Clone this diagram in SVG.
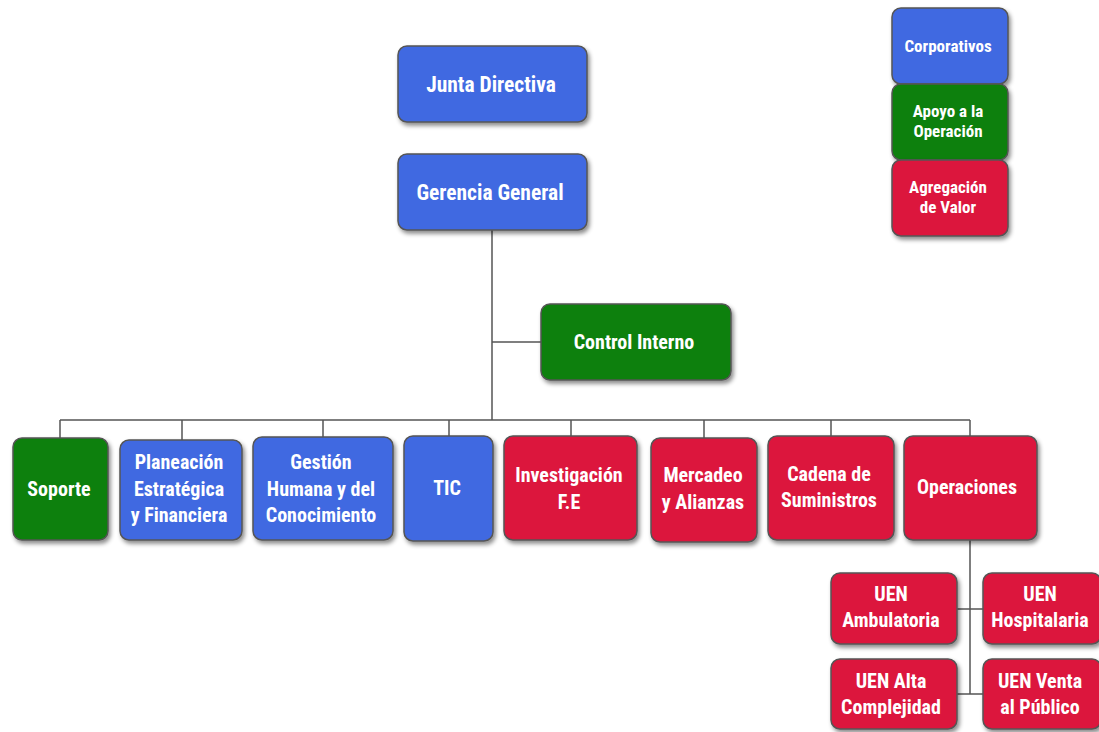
<svg xmlns="http://www.w3.org/2000/svg" width="1099" height="732" viewBox="0 0 1099 732">
<defs>
<filter id="sh" x="-10%" y="-10%" width="130%" height="130%">
<feDropShadow dx="2" dy="3" stdDeviation="2" flood-color="#000" flood-opacity="0.45"/>
</filter>
</defs>
<style>
.b{stroke:#555;stroke-width:1.5;filter:url(#sh)}
.blue{fill:#4169E1}.red{fill:#DC143C}.green{fill:#0B800B}
text{font-family:"Liberation Sans Narrow","Roboto Condensed","Arial Narrow","Liberation Sans",sans-serif;font-weight:bold;fill:#fff;text-anchor:middle}
.l{font-size:21.5px}.m{font-size:20px}.s{font-size:17px}
.c{stroke:#555;stroke-width:1.5;fill:none}
</style>
<rect width="1099" height="732" fill="#fff"/>
<g id="connectors">
<path class="c" d="M492 230V420M492 342H541M60 420H970M60 420V438M182 420V440M323 420V437M449 420V436M571 420V436M704 420V438M831 420V436M970 420V436M970 540V694M957 609H983M957 694H983"/>
</g>
<g id="junta"><rect class="b blue" x="398" y="46" width="189" height="76" rx="9"/><text class="l" x="491" y="92">Junta Directiva</text></g>
<g id="gerencia"><rect class="b blue" x="398" y="154" width="189" height="76" rx="9"/><text class="l" x="490" y="200">Gerencia General</text></g>
<g id="control"><rect class="b green" x="541" y="304" width="190" height="76" rx="9"/><text class="m" x="634" y="349">Control Interno</text></g>
<g id="leg-corp"><rect class="b blue" x="892" y="8" width="116" height="76" rx="9"/><text class="s" x="948" y="52">Corporativos</text></g>
<g id="leg-apoyo"><rect class="b green" x="892" y="84" width="116" height="76" rx="9"/><text class="s" x="948" y="117">Apoyo a la</text><text class="s" x="948" y="137">Operación</text></g>
<g id="leg-agreg"><rect class="b red" x="892" y="160" width="116" height="76" rx="9"/><text class="s" x="948" y="193">Agregación</text><text class="s" x="948" y="213">de Valor</text></g>
<g id="soporte"><rect class="b green" x="13" y="438" width="95" height="102" rx="9"/><text class="m" x="59" y="496">Soporte</text></g>
<g id="planeacion"><rect class="b blue" x="120" y="440" width="122" height="100" rx="9"/><text class="m" x="179" y="469">Planeación</text><text class="m" x="179" y="496">Estratégica</text><text class="m" x="179" y="522">y Financiera</text></g>
<g id="gestion"><rect class="b blue" x="253" y="437" width="140" height="103" rx="9"/><text class="m" x="321" y="469">Gestión</text><text class="m" x="321" y="496">Humana y del</text><text class="m" x="321" y="522">Conocimiento</text></g>
<g id="tic"><rect class="b blue" x="404" y="436" width="89" height="105" rx="9"/><text class="m" x="447" y="495">TIC</text></g>
<g id="investigacion"><rect class="b red" x="504" y="436" width="133" height="104" rx="9"/><text class="m" x="569" y="482">Investigación</text><text class="m" x="569" y="509">F.E</text></g>
<g id="mercadeo"><rect class="b red" x="651" y="438" width="106" height="104" rx="9"/><text class="m" x="703" y="482">Mercadeo</text><text class="m" x="703" y="509">y Alianzas</text></g>
<g id="cadena"><rect class="b red" x="768" y="436" width="126" height="104" rx="9"/><text class="m" x="829" y="481">Cadena de</text><text class="m" x="829" y="507">Suministros</text></g>
<g id="operaciones"><rect class="b red" x="904" y="436" width="133" height="104" rx="9"/><text class="m" x="967" y="494">Operaciones</text></g>
<g id="uen-amb"><rect class="b red" x="831" y="573" width="126" height="71" rx="9"/><text class="m" x="891" y="601">UEN</text><text class="m" x="891" y="627">Ambulatoria</text></g>
<g id="uen-hosp"><rect class="b red" x="983" y="573" width="118" height="71" rx="9"/><text class="m" x="1040" y="601">UEN</text><text class="m" x="1040" y="627">Hospitalaria</text></g>
<g id="uen-alta"><rect class="b red" x="831" y="659" width="126" height="70" rx="9"/><text class="m" x="891" y="688">UEN Alta</text><text class="m" x="891" y="714">Complejidad</text></g>
<g id="uen-venta"><rect class="b red" x="983" y="659" width="118" height="70" rx="9"/><text class="m" x="1040" y="688">UEN Venta</text><text class="m" x="1040" y="714">al Público</text></g>
</svg>
